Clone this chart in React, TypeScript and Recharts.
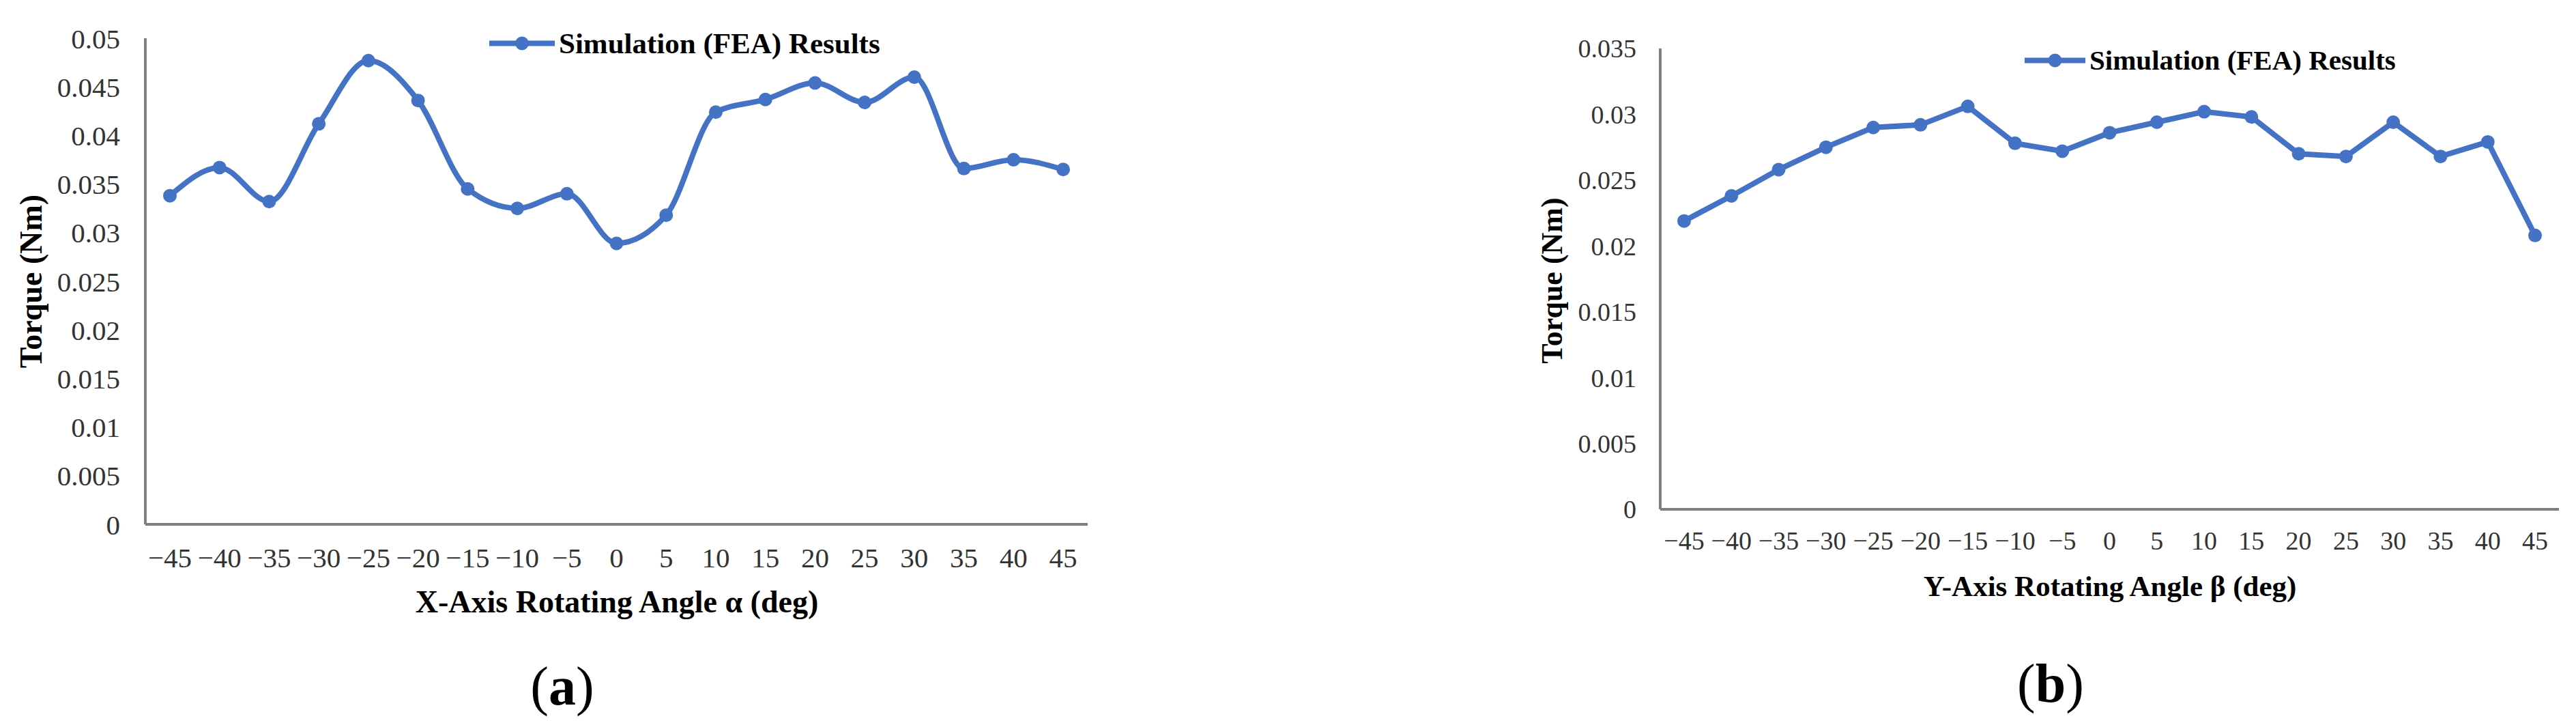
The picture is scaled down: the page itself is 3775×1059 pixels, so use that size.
import React from 'react'
import { LineChart, Line, XAxis, YAxis } from 'recharts'

// rotating angles (deg), shared by both panels
const angles = [-45, -40, -35, -30, -25, -20, -15, -10, -5, 0, 5, 10, 15, 20, 25, 30, 35, 40, 45]

// torque (Nm)
const torqueAlpha = [
  0.0338, 0.0367, 0.0332, 0.0412, 0.0477, 0.0436, 0.0345, 0.0325, 0.034, 0.0289,
  0.0318, 0.0424, 0.0437, 0.0454, 0.0434, 0.046, 0.0366, 0.0375, 0.0365,
]
const torqueBeta = [
  0.0219, 0.0238, 0.0258, 0.0275, 0.029, 0.0292, 0.0306, 0.0278, 0.0272, 0.0286,
  0.0294, 0.0302, 0.0298, 0.027, 0.0268, 0.0294, 0.0268, 0.0279, 0.0208,
]

const ticksAlpha = [0, 0.005, 0.01, 0.015, 0.02, 0.025, 0.03, 0.035, 0.04, 0.045, 0.05]
const ticksBeta = [0, 0.005, 0.01, 0.015, 0.02, 0.025, 0.03, 0.035]

const seriesName = 'Simulation (FEA) Results'
const BLUE = '#4472C4'
const AXIS = '#7f7f7f'
const FONT = '"Liberation Serif", "Times New Roman", serif'

const dataAlpha = angles.map((a, i) => ({ angle: a, torque: torqueAlpha[i] }))
const dataBeta = angles.map((a, i) => ({ angle: a, torque: torqueBeta[i] }))

const fmtAngle = (v: number) => String(v).replace('-', '\u2212')

function Text({ x, y, size, children, rotate, bold = true }: {
  x: number; y: number; size: number; children: React.ReactNode; rotate?: boolean; bold?: boolean
}) {
  return (
    <div
      style={{
        position: 'absolute', left: x, top: y, fontFamily: FONT, fontSize: size,
        fontWeight: bold ? 700 : 400, color: '#000', whiteSpace: 'nowrap', lineHeight: 1,
        transform: `translate(-50%, -50%)${rotate ? ' rotate(-90deg)' : ''}`,
      }}
    >
      {children}
    </div>
  )
}

function LegendKey({ x, y, lineW, size }: { x: number; y: number; lineW: number; size: number }) {
  return (
    <div style={{ position: 'absolute', left: x, top: y, transform: 'translateY(-50%)', display: 'flex', alignItems: 'center' }}>
      <svg width={lineW} height={24}>
        <line x1={0} y1={12} x2={lineW} y2={12} stroke={BLUE} strokeWidth={8} />
        <circle cx={lineW / 2} cy={12} r={10} fill={BLUE} />
      </svg>
      <span style={{ fontFamily: FONT, fontSize: size, fontWeight: 700, marginLeft: 6, lineHeight: 1 }}>{seriesName}</span>
    </div>
  )
}

export default function App() {
  return (
    <div style={{ position: 'absolute', left: 0, top: 0, width: 3775, height: 1059, background: '#fff' }}>
      {/* (a) X-axis rotation */}
      <div style={{ position: 'absolute', left: 0, top: 0 }}>
        <LineChart width={1700} height={1059} data={dataAlpha} margin={{ top: 56, right: 106, bottom: 0, left: 0 }}>
          <XAxis
            dataKey="angle"
            height={291}
            interval={0}
            padding={{ left: 36, right: 36 }}
            tickFormatter={fmtAngle}
            tickLine={false}
            tickSize={0}
            tickMargin={34}
            axisLine={{ stroke: AXIS, strokeWidth: 4 }}
            tick={{ fontSize: 41, fill: '#333', fontFamily: FONT }}
          />
          <YAxis
            width={213}
            domain={[0, 0.05]}
            ticks={ticksAlpha}
            interval={0}
            tickFormatter={(v: number) => String(v)}
            tickLine={false}
            tickSize={0}
            tickMargin={37}
            axisLine={{ stroke: AXIS, strokeWidth: 4 }}
            tick={{ fontSize: 41, fill: '#333', fontFamily: FONT }}
          />
          <Line
            type="monotone"
            dataKey="torque"
            name={seriesName}
            stroke={BLUE}
            strokeWidth={8}
            dot={{ r: 10, fill: BLUE, stroke: BLUE, strokeWidth: 0 }}
            isAnimationActive={false}
          />
        </LineChart>
      </div>
      <LegendKey x={717} y={63} lineW={96} size={43} />
      <Text x={46} y={412} size={46} rotate>Torque (Nm)</Text>
      <Text x={904} y={882} size={46}>X-Axis Rotating Angle α (deg)</Text>
      <Text x={824} y={1005} size={80} bold={false}>(<b>a</b>)</Text>

      {/* (b) Y-axis rotation */}
      <div style={{ position: 'absolute', left: 2200, top: 0 }}>
        <LineChart width={1575} height={1059} data={dataBeta} margin={{ top: 71, right: 25, bottom: 0, left: 0 }}>
          <XAxis
            dataKey="angle"
            height={313}
            interval={0}
            padding={{ left: 35, right: 35 }}
            tickFormatter={fmtAngle}
            tickLine={false}
            tickSize={0}
            tickMargin={32}
            axisLine={{ stroke: AXIS, strokeWidth: 4 }}
            tick={{ fontSize: 38, fill: '#333', fontFamily: FONT }}
          />
          <YAxis
            width={233}
            domain={[0, 0.035]}
            ticks={ticksBeta}
            interval={0}
            tickFormatter={(v: number) => String(v)}
            tickLine={false}
            tickSize={0}
            tickMargin={35}
            axisLine={{ stroke: AXIS, strokeWidth: 4 }}
            tick={{ fontSize: 38, fill: '#333', fontFamily: FONT }}
          />
          <Line
            type="linear"
            dataKey="torque"
            name={seriesName}
            stroke={BLUE}
            strokeWidth={8}
            dot={{ r: 10, fill: BLUE, stroke: BLUE, strokeWidth: 0 }}
            isAnimationActive={false}
          />
        </LineChart>
      </div>
      <LegendKey x={2967} y={88} lineW={89} size={41} />
      <Text x={2275} y={411} size={44} rotate>Torque (Nm)</Text>
      <Text x={3092} y={858} size={43}>Y-Axis Rotating Angle β (deg)</Text>
      <Text x={3005} y={1001} size={80} bold={false}>(<b>b</b>)</Text>
    </div>
  )
}
